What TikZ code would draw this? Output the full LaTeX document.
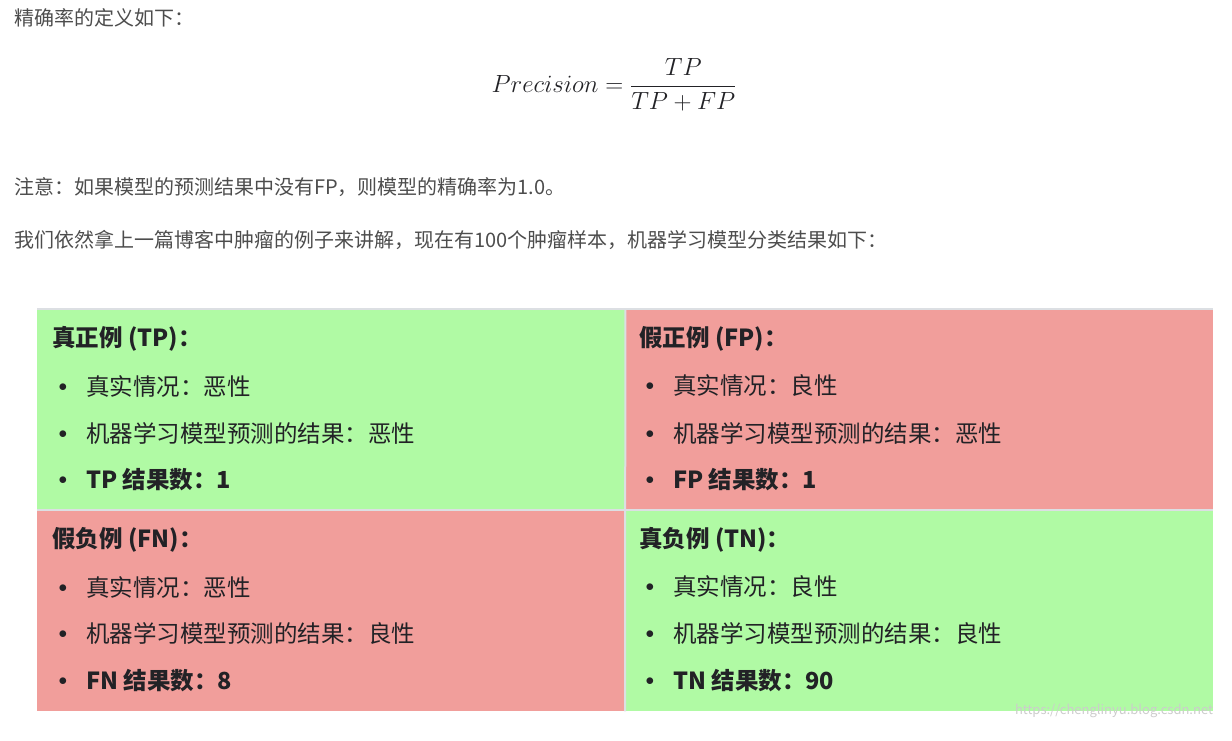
\documentclass[tikz,border=0pt]{standalone}
\usepackage{fontspec}
\setmainfont{Noto Sans CJK SC}
\usetikzlibrary{positioning}
\definecolor{cellgreen}{RGB}{176,250,164}
\definecolor{cellred}{RGB}{241,158,155}
\definecolor{gridline}{RGB}{220,223,227}
\definecolor{bodytext}{RGB}{77,77,77}
\definecolor{celltext}{RGB}{34,34,38}
\newcommand{\itemdot}{\llap{\raisebox{4pt}{\fontsize{16}{16}\selectfont$\bullet$}\hspace{19pt}}}

\begin{document}
\begin{tikzpicture}[x=1pt, y=-1pt,
  para/.style={anchor=west, inner sep=0, text=bodytext, font=\fontsize{20}{24}\selectfont},
  cell/.style={anchor=north west, inner sep=0, minimum width=588pt, minimum height=201pt},
  head/.style={anchor=west, inner sep=0, text=celltext, font=\fontsize{23.5}{28}\selectfont\bfseries},
  item/.style={anchor=west, inner sep=0, text=celltext, font=\fontsize{23.5}{28}\selectfont},
  sep/.style={draw=gridline, line width=2pt}]
  \useasboundingbox (0,0) rectangle (1232,741);

  % text above the table
  \node[para] (intro) at (14,18) {精确率的定义如下：};
  \node[text=celltext, inner sep=0, font=\fontsize{25}{30}\selectfont] (formula) at (614,85)
    {$\displaystyle Precision = \frac{TP}{TP+FP}$};
  \node[para] (note) at (14,187) {注意：如果模型的预测结果中没有FP，则模型的精确率为1.0。};
  \node[para] (example) at (14,240) {我们依然拿上一篇博客中肿瘤的例子来讲解，现在有100个肿瘤样本，机器学习模型分类结果如下：};

  % the four cells
  \node[cell, fill=cellgreen] (tp) at (37,309) {};
  \node[cell, fill=cellred] (fp) at (625,309) {};
  \node[cell, fill=cellred] (fn) at (37,510) {};
  \node[cell, fill=cellgreen] (tn) at (625,510) {};
  \draw[sep] (tp.north west) -- (fp.north east);
  \draw[sep] (tp.north east) -- (tn.south west);
  \draw[sep] (tp.south west) -- (fp.south east);

  % true positive
  \node[head] (tp-h) at (52,339) {真正例 (TP)：};
  \node[item] (tp-1) at (86,386) {\itemdot 真实情况：恶性};
  \node[item] (tp-2) at (86,433) {\itemdot 机器学习模型预测的结果：恶性};
  \node[item] (tp-3) at (86,480) {\itemdot\bfseries TP 结果数：1};
  % false positive
  \node[head] (fp-h) at (639,339) {假正例 (FP)：};
  \node[item] (fp-1) at (673,386) {\itemdot 真实情况：良性};
  \node[item] (fp-2) at (673,433) {\itemdot 机器学习模型预测的结果：恶性};
  \node[item] (fp-3) at (673,480) {\itemdot\bfseries FP 结果数：1};
  % false negative
  \node[head] (fn-h) at (52,540) {假负例 (FN)：};
  \node[item] (fn-1) at (86,587) {\itemdot 真实情况：恶性};
  \node[item] (fn-2) at (86,634) {\itemdot 机器学习模型预测的结果：良性};
  \node[item] (fn-3) at (86,681) {\itemdot\bfseries FN 结果数：8};
  % true negative
  \node[head] (tn-h) at (639,540) {真负例 (TN)：};
  \node[item] (tn-1) at (673,587) {\itemdot 真实情况：良性};
  \node[item] (tn-2) at (673,634) {\itemdot 机器学习模型预测的结果：良性};
  \node[item] (tn-3) at (673,681) {\itemdot\bfseries TN 结果数：90};

  \node[text=gray!40, inner sep=0, font=\fontsize{13}{15}\selectfont] (mark) at (1114,711)
    {https://chenglinyu.blog.csdn.net};
\end{tikzpicture}
\end{document}
